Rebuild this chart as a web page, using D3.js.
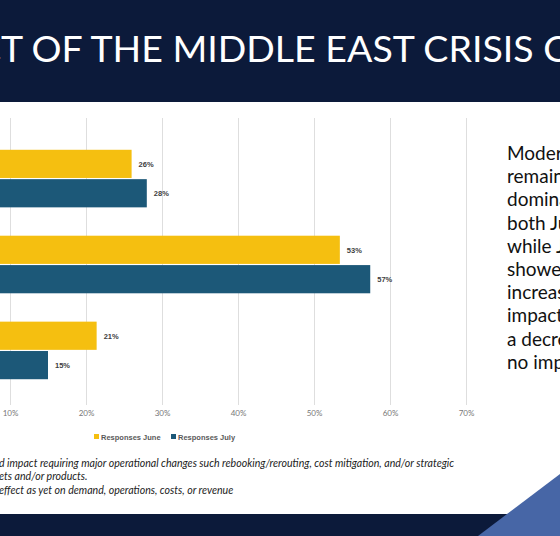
<!DOCTYPE html>
<html><head><meta charset="utf-8">
<script src="https://cdn.jsdelivr.net/npm/d3@7"></script>
<style>body{margin:0;overflow:hidden;background:#fff}svg{display:block}</style>
</head><body>
<svg id="c" width="560" height="536"></svg>
<script>
const categories = ["Major impact*", "Moderate impact", "No impact**"];
const seriesNames = ["Responses June", "Responses July"];
const june = [26, 53.4, 21.4];
const july = [28, 57.4, 15];
const tickValues = [0, 10, 20, 30, 40, 50, 60, 70];
const colors = ["#f5bf10", "#1c5878"];
const summary = ["Moderate impact", "remains the", "dominant view in", "both June and July,", "while July", "showed an", "increase in major", "impact and", "a decrease in", "no impact."];

const svg = d3.select("#c");
svg.append("rect").attr("width",560).attr("height",102).attr("fill","#0c1a3a");
const title = svg.append("text").attr("y",62).attr("fill","#fff")
  .attr("font-family","Lato").attr("font-size",37.5).text("IMPACT OF THE MIDDLE EAST CRISIS ON TRAVEL");
title.attr("x", -title.node().getSubStringLength(0,5)+1);

const x = d3.scaleLinear().domain([0,70]).range([-66,466]);
const y = d3.scaleBand().domain(categories).range([124,405]).paddingInner(0.33).paddingOuter(0.3);

const grid = svg.append("g").attr("transform","translate(0,405)")
  .call(d3.axisBottom(x).tickValues(tickValues).tickSize(-287).tickFormat(d=>d+"%"));
grid.select(".domain").remove();
grid.selectAll("line").attr("stroke","#dedede");
grid.selectAll("text").attr("font-family","Lato").attr("font-size",8).attr("fill","#777").attr("dy",8);

const sub = d3.scaleBand().domain([0,1]).range([0,y.bandwidth()]).paddingInner(0.04);
[june, july].forEach((vals, si) => {
  const g = svg.append("g");
  g.selectAll("rect").data(vals).join("rect")
    .attr("x", x(0)).attr("y",(d,i)=>y(categories[i])+sub(si))
    .attr("width", d=>x(d)-x(0)).attr("height", sub.bandwidth()).attr("fill", colors[si]);
  g.selectAll("text").data(vals).join("text")
    .attr("x", d=>x(d)+7).attr("y",(d,i)=>y(categories[i])+sub(si)+sub.bandwidth()/2+3)
    .attr("font-family","Liberation Sans").attr("font-weight","bold").attr("font-size",7.5).attr("fill","#404040")
    .text(d=>Math.round(d)+"%");
});

const leg = svg.append("g").attr("font-family","Liberation Sans").attr("font-weight","bold").attr("font-size",7.5);
const legX = [94, 171];
seriesNames.forEach((n,i)=>{
  leg.append("rect").attr("x",legX[i]).attr("y",434).attr("width",5).attr("height",5).attr("fill",colors[i]);
  leg.append("text").attr("x",legX[i]+7).attr("y",440).attr("fill","#595959").text(n);
});

const notes = [["*Major impact: A sustaine","d impact requiring major operational changes such rebooking/rerouting, cost mitigation, and/or strategic",467],
  ["shifts in targeted mark","ets and/or products.",480],
  ["**No impact: No ","effect as yet on demand, operations, costs, or revenue",494]];
notes.forEach(([p,t,yy])=>{
  const tx = svg.append("text").attr("y",yy).attr("font-family","Lato").attr("font-style","italic")
    .attr("font-size",10.6).attr("fill","#222").text(p+t);
  tx.attr("x", -tx.node().getSubStringLength(0,p.length)-1);
});

svg.append("g").selectAll("text").data(summary).join("text")
  .attr("x",507).attr("y",(d,i)=>160+i*23.2).attr("font-family","Lato").attr("font-size",19).attr("fill","#111").text(d=>d);

svg.append("rect").attr("y",514).attr("width",560).attr("height",22).attr("fill","#0c1a3a");
svg.append("polygon").attr("points","478,536 560,474 560,536").attr("fill","#4766a6");
</script>
</body></html>
